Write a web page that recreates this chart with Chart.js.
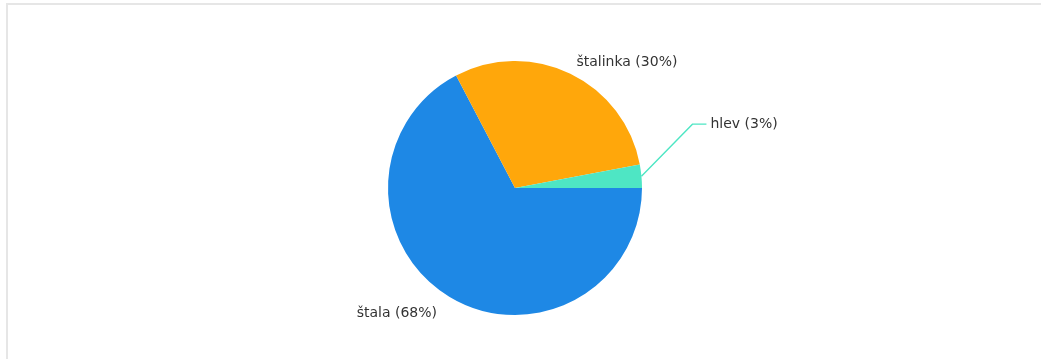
<!DOCTYPE html>
<html>
<head>
<meta charset="utf-8">
<script src="https://cdn.jsdelivr.net/npm/chart.js@4/dist/chart.umd.min.js"></script>
<style>
  html, body { margin: 0; padding: 0; background: #fff; overflow: hidden; }
  #okvir {
    position: absolute; left: 6px; top: 3px; width: 1200px; height: 500px;
    border-left: 2px solid #e6e6e6; border-top: 2px solid #e6e6e6;
  }
  #graf { position: absolute; left: 0; top: 0; }
</style>
</head>
<body>
<div id="okvir"></div>
<canvas id="graf" width="1041" height="359"></canvas>
<script>
// Podatki
const kategorije = ['štala', 'štalinka', 'hlev'];
const deleži     = [68, 30, 3];
const barve      = ['#1e88e5', '#ffa70b', '#4ee6c4'];

// Oznake zunaj pite, s povezovalno črto kadar je oznaka odmaknjena
const zunanjeOznake = {
  id: 'zunanjeOznake',
  afterDatasetsDraw(chart, args, opts) {
    const { ctx } = chart;
    const meta = chart.getDatasetMeta(0);
    ctx.save();
    ctx.font = '14px "DejaVu Sans", Verdana, sans-serif';
    ctx.textBaseline = 'middle';
    meta.data.forEach((arc, i) => {
      const { x, y, startAngle, endAngle, outerRadius } = arc.getProps(['x','y','startAngle','endAngle','outerRadius'], true);
      const kot = (startAngle + endAngle) / 2;
      const cos = Math.cos(kot), sin = Math.sin(kot);
      const desno = cos >= 0;
      const px = x + outerRadius * cos, py = y + outerRadius * sin;
      const zamik = (opts.zamiki || {})[kategorije[i]];
      let lx, ly;
      if (zamik) {
        lx = px + zamik.dx; ly = py + zamik.dy;
        const smer = desno ? 1 : -1;
        ctx.strokeStyle = barve[i];
        ctx.lineWidth = 1.4;
        ctx.beginPath();
        ctx.moveTo(px, py);
        ctx.lineTo(lx - 18 * smer, ly);
        ctx.lineTo(lx - 4 * smer, ly);
        ctx.stroke();
      } else {
        lx = x + (outerRadius + 14) * cos + (desno ? 0 : -5);
        ly = y + (outerRadius + 14) * sin + (desno ? 1 : 5);
      }
      ctx.fillStyle = '#333';
      ctx.textAlign = desno ? 'left' : 'right';
      ctx.fillText(`${kategorije[i]} (${deleži[i]}%)`, lx, ly);
    });
    ctx.restore();
  }
};

new Chart(document.getElementById('graf'), {
  type: 'pie',
  data: {
    labels: kategorije,
    datasets: [{
      data: deleži,
      backgroundColor: barve,
      borderWidth: 0,
      hoverOffset: 0
    }]
  },
  options: {
    responsive: false,
    animation: false,
    rotation: 90,
    layout: { padding: { left: 388, right: 399, top: 61, bottom: 44 } },
    plugins: {
      legend: { display: false },
      tooltip: { enabled: false },
      zunanjeOznake: { zamiki: { hlev: { dx: 69, dy: -52 } } }
    }
  },
  plugins: [zunanjeOznake]
});
</script>
</body>
</html>
